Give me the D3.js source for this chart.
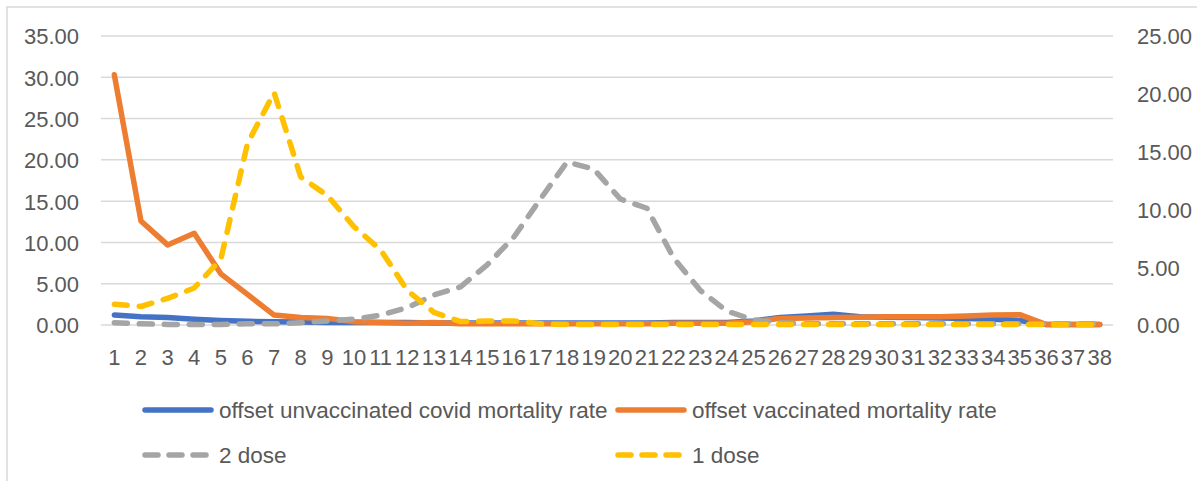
<!DOCTYPE html>
<html>
<head>
<meta charset="utf-8">
<script src="https://cdn.jsdelivr.net/npm/d3@7"></script>
<style>
  body { margin: 0; background: #fff; }
  text { font-family: 'Liberation Sans', Arial, sans-serif; fill: #595959; }
</style>
</head>
<body>
<div id="chart"></div>
<script>
// week index 1..38
var weeks = d3.range(1, 39)

// left axis series
var unvaccinated = [1.2, 1.0, 0.9, 0.7, 0.55, 0.45, 0.4, 0.35, 0.3, 0.3,
  0.3, 0.3, 0.25, 0.25, 0.25, 0.25, 0.25, 0.25, 0.25, 0.25,
  0.25, 0.3, 0.3, 0.3, 0.5, 0.9, 1.1, 1.3, 1.0, 0.95,
  0.9, 0.85, 0.8, 0.7, 0.55, 0.05, 0.05, 0.05]
var vaccinated = [30.3, 12.6, 9.7, 11.1, 6.2, 3.7, 1.2, 0.9, 0.8, 0.4,
  0.3, 0.2, 0.3, 0.15, 0.15, 0.15, 0.15, 0.15, 0.15, 0.15,
  0.15, 0.2, 0.2, 0.2, 0.4, 0.8, 0.85, 0.9, 0.95, 1.0,
  1.0, 1.0, 1.1, 1.2, 1.25, 0.05, 0.05, 0.05]

// right axis series
var dose2 = [0.2, 0.1, 0.05, 0.05, 0.05, 0.1, 0.1, 0.2, 0.35, 0.5,
  0.85, 1.5, 2.6, 3.3, 5.2, 7.6, 10.9, 14.1, 13.5, 10.9,
  10.1, 5.8, 3.0, 1.2, 0.45, 0.2, 0.1, 0.1, 0.1, 0.1,
  0.1, 0.1, 0.1, 0.1, 0.1, 0.1, 0.1, 0.1]
var dose1 = [1.8, 1.6, 2.3, 3.2, 5.7, 15.7, 20.1, 12.8, 11.2, 8.5,
  6.5, 3.0, 1.1, 0.3, 0.35, 0.35, 0.1, 0.05, 0.05, 0.05,
  0.05, 0.05, 0.05, 0.05, 0.05, 0.05, 0.05, 0.05, 0.05, 0.05,
  0.05, 0.05, 0.05, 0.05, 0.05, 0.05, 0.05, 0.05]

var leftTicks = [0, 5, 10, 15, 20, 25, 30, 35]
var rightTicks = [0, 5, 10, 15, 20, 25]

var seriesNames = ['offset unvaccinated covid mortality rate', 'offset vaccinated mortality rate', '2 dose', '1 dose']

var width = 1197
var height = 481
var plot = { left: 101, right: 1113, top: 36, bottom: 325 }
var fontSize = 22

var colors = {
  blue: '#4472c4',
  orange: '#ed7d31',
  gray: '#a5a5a5',
  yellow: '#ffc000',
  grid: '#d9d9d9'
}

var svg = d3.select('#chart').append('svg')
  .attr('width', width)
  .attr('height', height)

// chart frame
svg.append('rect')
  .attr('x', 7).attr('y', 7)
  .attr('width', width + 20).attr('height', height + 20)
  .attr('fill', 'none')
  .attr('stroke', colors.grid)
  .attr('stroke-width', 1.5)

var xScale = d3.scaleBand()
  .domain(weeks)
  .range([plot.left, plot.right])

var yLeft = d3.scaleLinear().domain([0, 35]).range([plot.bottom, plot.top])
var yRight = d3.scaleLinear().domain([0, 25]).range([plot.bottom, plot.top])

function xMid (d) { return xScale(d) + xScale.bandwidth() / 2 }

// gridlines
svg.append('g').classed('grid', true).selectAll('line')
  .data(leftTicks)
  .enter()
  .append('line')
    .attr('x1', plot.left)
    .attr('x2', plot.right)
    .attr('y1', function (d) { return yLeft(d) })
    .attr('y2', function (d) { return yLeft(d) })
    .attr('stroke', colors.grid)
    .attr('stroke-width', 1.5)

// left axis
var leftAxis = d3.axisLeft(yLeft).tickValues(leftTicks).tickFormat(d3.format('.2f')).tickSize(0).tickPadding(22)
svg.append('g')
  .attr('transform', 'translate(' + plot.left + ',0)')
  .call(leftAxis)
  .call(function (g) { g.select('.domain').remove() })
  .selectAll('text')
    .attr('dy', '0.36em')

// right axis
var rightAxis = d3.axisRight(yRight).tickValues(rightTicks).tickFormat(d3.format('.2f')).tickSize(0).tickPadding(24)
svg.append('g')
  .attr('transform', 'translate(' + plot.right + ',0)')
  .call(rightAxis)
  .call(function (g) { g.select('.domain').remove() })
  .selectAll('text')
    .attr('dy', '0.36em')

// bottom axis
var bottomAxis = d3.axisBottom(xScale).tickSize(0).tickPadding(32)
svg.append('g')
  .attr('transform', 'translate(0,' + plot.bottom + ')')
  .call(bottomAxis)
  .call(function (g) { g.select('.domain').remove() })
  .selectAll('text')
    .attr('dy', '0.36em')

svg.selectAll('.tick text')
  .attr('fill', '#595959')
  .attr('font-family', 'Liberation Sans, Arial, sans-serif')
  .attr('font-size', fontSize)

var series = [
  { values: unvaccinated, y: yLeft, color: colors.blue, dash: null },
  { values: vaccinated, y: yLeft, color: colors.orange, dash: null },
  { values: dose2, y: yRight, color: colors.gray, dash: '13 12' },
  { values: dose1, y: yRight, color: colors.yellow, dash: '13 12' }
]

series.forEach(function (s) {
  var line = d3.line()
    .x(function (d, i) { return xMid(weeks[i]) })
    .y(function (d) { return s.y(d) })
  svg.append('path')
    .datum(s.values)
    .attr('d', line)
    .attr('fill', 'none')
    .attr('stroke', s.color)
    .attr('stroke-width', 5.5)
    .attr('stroke-linejoin', 'round')
    .attr('stroke-linecap', 'round')
    .attr('stroke-dasharray', s.dash)
})

// legend
var legendPos = [
  { x: 145, y: 410 },
  { x: 618, y: 410 },
  { x: 145, y: 455 },
  { x: 618, y: 455 }
]

var legend = svg.append('g').classed('legend', true)
series.forEach(function (s, i) {
  var p = legendPos[i]
  legend.append('line')
    .attr('x1', p.x).attr('x2', p.x + 66)
    .attr('y1', p.y).attr('y2', p.y)
    .attr('stroke', s.color)
    .attr('stroke-width', 5.5)
    .attr('stroke-linecap', 'round')
    .attr('stroke-dasharray', s.dash ? '13 11' : null)
  legend.append('text')
    .attr('x', p.x + 74)
    .attr('y', p.y)
    .attr('dy', '0.36em')
    .attr('font-size', 22.5)
    .text(seriesNames[i])
})
</script>
</body>
</html>
